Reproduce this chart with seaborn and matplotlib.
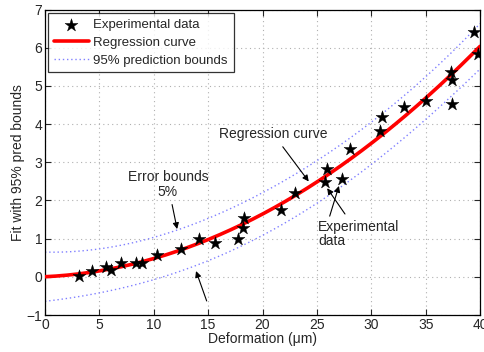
import numpy as np
import pandas as pd
import matplotlib
matplotlib.use("Agg")
import matplotlib.pyplot as plt
import seaborn as sns

deformation = [3.1, 4.3, 5.6, 6.1, 7.0, 8.4, 8.9, 10.3, 12.5, 14.2, 15.6, 17.7,
               18.2, 18.3, 21.7, 23.0, 25.7, 25.9, 27.3, 28.0, 30.8, 31.0,
               33.0, 35.0, 37.4, 37.4, 37.3, 39.4, 39.8]
fit_value = [0.03, 0.15, 0.25, 0.18, 0.36, 0.37, 0.35, 0.57, 0.73, 1.00, 0.88, 1.00,
             1.27, 1.54, 1.76, 2.20, 2.48, 2.82, 2.56, 3.35, 3.81, 4.19,
             4.45, 4.60, 4.52, 5.15, 5.37, 6.40, 5.83]

xticks = [0, 5, 10, 15, 20, 25, 30, 35, 40]
yticks = [-1, 0, 1, 2, 3, 4, 5, 6, 7]

sns.set_style("ticks")
plt.rcParams['font.family'] = ['Liberation Sans', 'DejaVu Sans']

x = np.asarray(deformation)
y = np.asarray(fit_value)

# Quadratic regression with 95% prediction bounds
X = np.column_stack([np.ones_like(x), x, x**2])
beta, *_ = np.linalg.lstsq(X, y, rcond=None)
resid = y - X @ beta
n, p = X.shape
s2 = resid @ resid / (n - p)
XtX_inv = np.linalg.inv(X.T @ X)
t_val = 2.056  # t(0.975, 26 dof)
xg = np.linspace(0, 40, 200)
Xg = np.column_stack([np.ones_like(xg), xg, xg**2])
yg = Xg @ beta
h = np.einsum('ij,jk,ik->i', Xg, XtX_inv, Xg)
half = t_val * np.sqrt(s2 * (1 + h))

df_pts = pd.DataFrame({"x": x, "y": y})
df_fit = pd.DataFrame({"x": xg, "fit": yg, "lo": yg - half, "hi": yg + half})

fig = plt.figure(figsize=(4.85, 3.52), dpi=100)
ax = fig.add_axes([0.0928, 0.105, 0.897, 0.868])

sns.scatterplot(data=df_pts, x="x", y="y", ax=ax, marker="*", s=95, color="black",
                edgecolor="black", linewidth=0.3, label="Experimental data", zorder=4)
sns.lineplot(data=df_fit, x="x", y="fit", ax=ax, color="red", linewidth=2.6,
             label="Regression curve", zorder=3)
sns.lineplot(data=df_fit, x="x", y="hi", ax=ax, color="#8080ff", linewidth=1.0,
             linestyle=(0, (1, 2)), label="95% prediction bounds", zorder=2)
sns.lineplot(data=df_fit, x="x", y="lo", ax=ax, color="#8080ff", linewidth=1.0,
             linestyle=(0, (1, 2)), label=None, zorder=2)

ax.set_xlim(0, 40)
ax.set_ylim(-1, 7)
ax.set_xticks(xticks)
ax.set_yticks(yticks)
ax.set_xticklabels([str(v) for v in xticks])
ax.set_yticklabels([("\u2212" + str(-v)) if v < 0 else str(v) for v in yticks])
ax.tick_params(direction="in", top=True, right=True, labelsize=10, length=4, width=0.8, pad=2)
ax.grid(True, color="#b0b0b0", linestyle=(0, (1, 3)), linewidth=0.8)
for sp in ax.spines.values():
    sp.set_visible(True)
    sp.set_linewidth(0.9)
    sp.set_color("black")
ax.set_xlabel("Deformation (\u03bcm)", fontsize=10, labelpad=0)
ax.set_ylabel("Fit with 95% pred bounds", fontsize=10, labelpad=1)

leg = ax.legend(loc="upper left", fontsize=9.5, frameon=True, fancybox=False,
                edgecolor="black", borderpad=0.45, labelspacing=0.42,
                handlelength=2.6, handletextpad=0.35, borderaxespad=0.25)
leg.get_frame().set_linewidth(0.9)

arrow = dict(arrowstyle="-|>", color="black", lw=0.8, mutation_scale=9)
ax.annotate("Error bounds\n5%", xy=(12.2, 1.18), xytext=(11.3, 2.05),
            ha="center", va="bottom", fontsize=10, arrowprops=arrow, linespacing=1.05)
ax.annotate("", xy=(13.8, 0.22), xytext=(14.95, -0.70), arrowprops=arrow)
ax.annotate("Regression curve", xy=(24.4, 2.44), xytext=(21.0, 3.55),
            ha="center", va="bottom", fontsize=10, arrowprops=arrow)
ax.annotate("Experimental\ndata", xy=(25.8, 2.38), xytext=(25.1, 1.5),
            ha="left", va="top", fontsize=10, arrowprops=arrow, linespacing=1.05)
ax.annotate("", xy=(27.1, 2.45), xytext=(26.1, 1.52), arrowprops=arrow)

fig.savefig("out.png", dpi=100)
